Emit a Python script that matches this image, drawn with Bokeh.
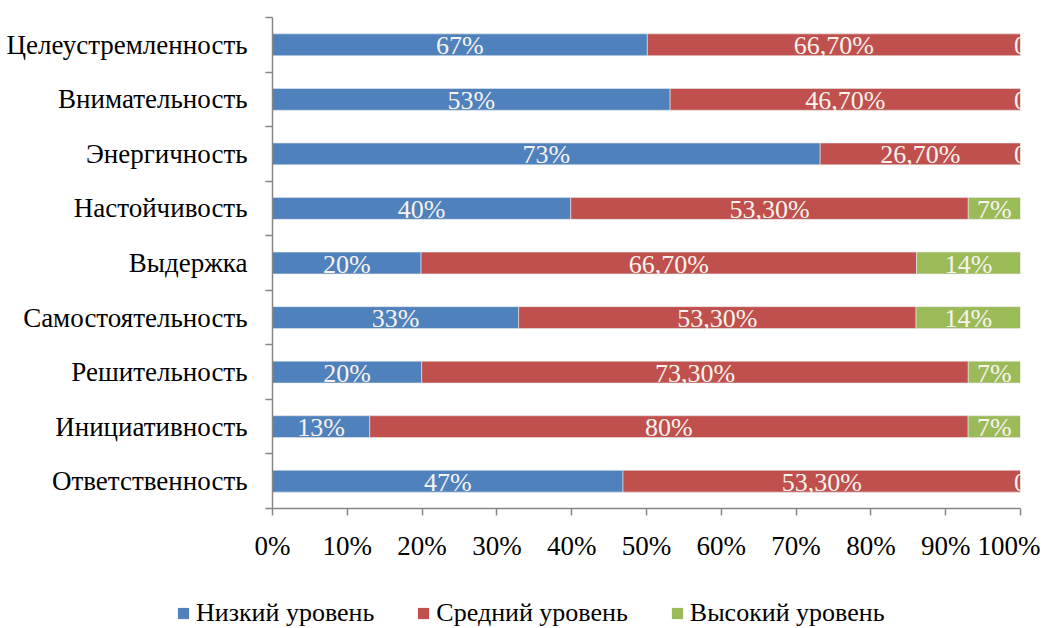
from bokeh.plotting import figure
from bokeh.layouts import column
from bokeh.models import ColumnDataSource, FixedTicker, Legend, LegendItem, Range1d
from bokeh.core.properties import value
from bokeh.embed import file_html
from bokeh.resources import INLINE

# Data (bottom to top)
categories = ["Ответственность", "Инициативность", "Решительность", "Самостоятельность",
              "Выдержка", "Настойчивость", "Энергичность", "Внимательность", "Целеустремленность"]
low = [47, 13, 20, 33, 20, 40, 73, 53, 67]
mid = [53.3, 80, 73.3, 53.3, 66.7, 53.3, 26.7, 46.7, 66.7]
high = [0, 7, 7, 14, 14, 7, 0, 0, 0]
low_labels = ["47%", "13%", "20%", "33%", "20%", "40%", "73%", "53%", "67%"]
mid_labels = ["53,30%", "80%", "73,30%", "53,30%", "66,70%", "53,30%", "26,70%", "46,70%", "66,70%"]
high_labels = ["0", "7%", "7%", "14%", "14%", "7%", "0", "0", "0"]
series_names = ["Низкий уровень", "Средний уровень", "Высокий уровень"]
colors = ["#4F81BD", "#C0504D", "#9BBB59"]

FONT = "Liberation Serif"
FS = "27px"
DFS = "26px"

n = len(categories)
ys = [i + 0.5 for i in range(n)]
tot = [a + b + c for a, b, c in zip(low, mid, high)]
l_end = [a / t for a, t in zip(low, tot)]
m_end = [(a + b) / t for a, b, t in zip(low, mid, tot)]
h_end = [1.0 for _ in tot]

p = figure(frame_width=748, frame_height=491, output_backend="svg", toolbar_location=None,
           x_range=Range1d(0, 1), y_range=Range1d(0, n),
           min_border_left=272, min_border_right=20, min_border_top=17, min_border_bottom=82)
p.outline_line_color = None
p.xgrid.visible = False
p.ygrid.visible = False
p.background_fill_color = "white"

starts = [[0.0] * n, l_end, m_end]
ends = [l_end, m_end, h_end]
labels = [low_labels, mid_labels, high_labels]
sources = []
for k in range(3):
    src = ColumnDataSource(dict(y=ys, left=starts[k], right=ends[k],
                                xc=[(a + b) / 2 for a, b in zip(starts[k], ends[k])],
                                lab=labels[k]))
    sources.append(src)
    p.hbar(y="y", left="left", right="right", height=0.4, source=src,
           fill_color=colors[k], line_color="#E8E8E8", line_width=0.6)
    p.text(x="xc", y="y", text="lab", source=src, text_align="center",
           text_baseline="middle", text_color="#F7F3EE", text_font=value(FONT),
           text_font_size=DFS, y_offset=1)

# Y axis: category labels at centers, separator ticks at boundaries
yax = p.yaxis[0]
yax.ticker = FixedTicker(ticks=ys, minor_ticks=list(range(n + 1)))
yax.major_label_overrides = {y: c for y, c in zip(ys, categories)}
yax.major_tick_out = 0
yax.major_tick_in = 0
yax.minor_tick_out = 7
yax.minor_tick_in = 0
yax.minor_tick_line_color = "#868686"
yax.axis_line_color = "#868686"
yax.axis_line_width = 1.5
yax.minor_tick_line_width = 1.5
yax.major_label_text_font = FONT
yax.major_label_text_font_size = FS
yax.major_label_text_color = "black"
yax.major_label_standoff = 18

xax = p.xaxis[0]
xt = [i / 10 for i in range(11)]
xax.ticker = FixedTicker(ticks=xt, minor_ticks=[])
xax.major_label_overrides = {t: f"{i * 10}%" for i, t in enumerate(xt)}
xax.major_tick_out = 7
xax.major_tick_in = 0
xax.major_tick_line_color = "#868686"
xax.major_tick_line_width = 1.5
xax.axis_line_color = "#868686"
xax.axis_line_width = 1.5
xax.major_label_text_font = FONT
xax.major_label_text_font_size = FS
xax.major_label_text_color = "black"
xax.major_label_standoff = 15

# Legend in its own strip below the chart (hidden copies of the series supply the swatches)
lf = figure(frame_width=1040, frame_height=38, output_backend="svg", toolbar_location=None,
            x_range=Range1d(0, 1), y_range=Range1d(0, n), min_border=0)
lf.axis.visible = False
lf.xgrid.visible = False
lf.ygrid.visible = False
lf.outline_line_color = None
leg_renderers = []
for k in range(3):
    r = lf.hbar(y="y", left="left", right="right", height=0.4, source=sources[k],
                fill_color=colors[k], line_color=None)
    r.visible = False
    leg_renderers.append(r)
legend = Legend(items=[LegendItem(label=series_names[k], renderers=[leg_renderers[k]]) for k in range(3)],
                orientation="horizontal", location=(176, 0),
                label_text_font=FONT, label_text_font_size=DFS, label_text_color="black",
                glyph_width=14, glyph_height=14, spacing=42, label_standoff=6,
                inactive_fill_alpha=0, inactive_fill_color="white",
                border_line_color=None, background_fill_alpha=0, margin=0, padding=0)
lf.add_layout(legend, "center")

layout = column(p, lf, spacing=0)
open("out.html", "w").write(file_html(layout, INLINE))
